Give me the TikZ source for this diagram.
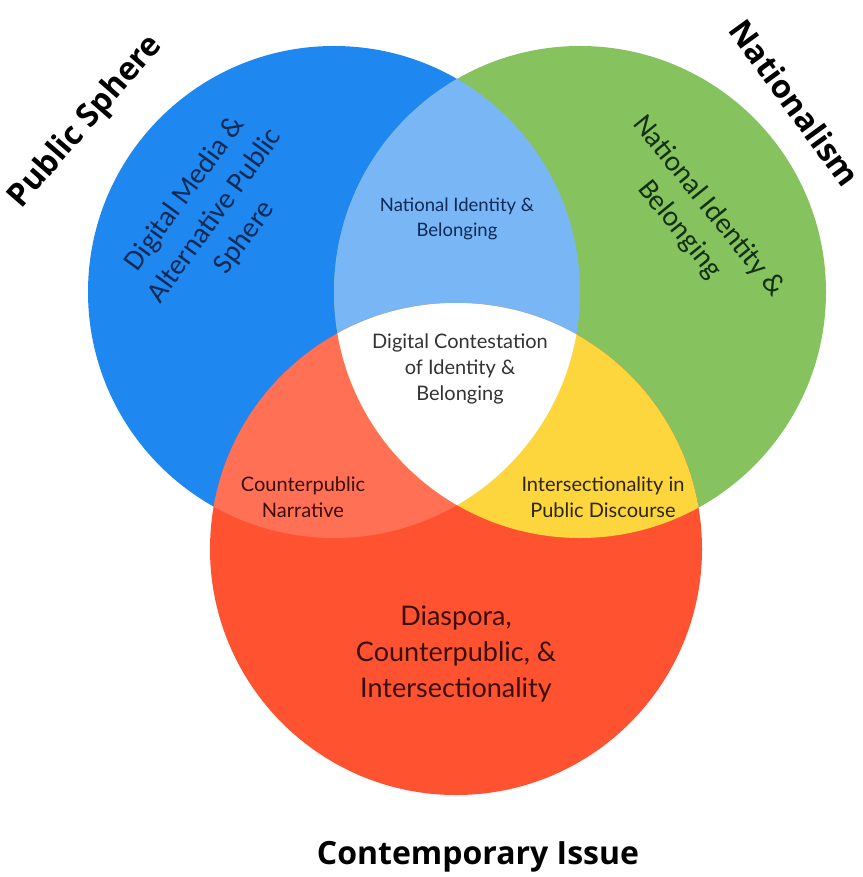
\documentclass[tikz,border=0pt]{standalone}
\usepackage{fontspec}
\setmainfont{Lato}
\newfontfamily\titlefont{Open Sans}
\newfontfamily\bodyfont{Carlito}
\definecolor{cblue}{HTML}{1F87F0}
\definecolor{cgreen}{HTML}{86C25E}
\definecolor{cred}{HTML}{FF5230}
\definecolor{clightblue}{HTML}{78B6F6}
\definecolor{csalmon}{HTML}{FF7055}
\definecolor{cyellow}{HTML}{FDD53C}
\definecolor{tnavy}{HTML}{0E2A55}
\definecolor{tgreen}{HTML}{123012}
\definecolor{tred}{HTML}{3A0E08}
\definecolor{tyellow}{HTML}{2E2608}
\begin{document}
\begin{tikzpicture}[x=1pt,y=-1pt,
  title/.style={font=\titlefont\bfseries\fontsize{32}{38}\selectfont, text=black, inner sep=0pt},
  ringlabel/.style={font=\bodyfont\fontsize{29}{37}\selectfont, align=center, inner sep=0pt},
  lenslabel/.style={font=\fontsize{20}{26}\selectfont, align=center, inner sep=0pt},
  biglabel/.style={font=\fontsize{27}{36}\selectfont, align=center, inner sep=0pt}]
\useasboundingbox (0,0) rectangle (862,877);
\fill[white] (0,0) rectangle (862,877);
% circle centres
\coordinate (cb) at (334,292);
\coordinate (cg) at (580,292);
\coordinate (cr) at (456,549);
\def\R{246}
% base discs
\fill[cblue] (cb) circle (\R);
\fill[cgreen] (cg) circle (\R);
% blue & green overlap
\begin{scope}
  \clip (cb) circle (\R);
  \fill[clightblue] (cg) circle (\R);
\end{scope}
% red disc
\fill[cred] (cr) circle (\R);
% red & blue overlap
\begin{scope}
  \clip (cr) circle (\R);
  \fill[csalmon] (cb) circle (\R);
\end{scope}
% red & green overlap
\begin{scope}
  \clip (cr) circle (\R);
  \fill[cyellow] (cg) circle (\R);
\end{scope}
% common centre
\begin{scope}
  \clip (cr) circle (\R);
  \clip (cb) circle (\R);
  \fill[white] (cg) circle (\R);
\end{scope}
% set titles
\node[title, rotate=49] (tps) at (86,122) {Public Sphere};
\node[title, rotate=-54] (tnat) at (795,103) {Nationalism};
\node[title] (tci) at (478,857) {Contemporary Issue};
% region labels
\node[ringlabel, text=tnavy, rotate=54] (lblue) at (215,216) {Digital Media \&\\Alternative Public\\Sphere};
\node[ringlabel, text=tgreen, rotate=-51] (lgreen) at (694,218) {National Identity \&\\Belonging};
\node[lenslabel, text=tnavy, font=\fontsize{18.5}{25}\selectfont] (lbg) at (457,219) {National Identity \&\\Belonging};
\node[lenslabel, text=black!80] (lall) at (460,369) {Digital Contestation\\of Identity \&\\Belonging};
\node[lenslabel, text=tred] (lbr) at (303,497) {Counterpublic\\Narrative};
\node[lenslabel, text=tyellow] (lgr) at (603,497) {Intersectionality in\\Public Discourse};
\node[biglabel, text=tred] (lred) at (456,654) {Diaspora,\\Counterpublic, \&\\Intersectionality};
\end{tikzpicture}
\end{document}
